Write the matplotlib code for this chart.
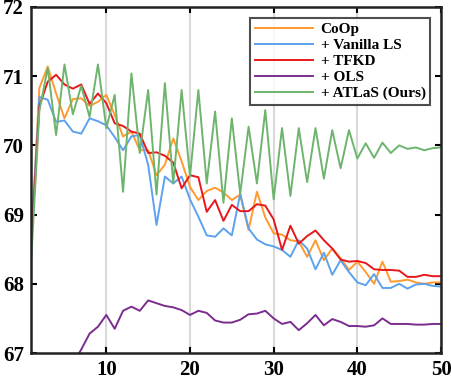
import matplotlib
matplotlib.use('Agg')
import matplotlib.pyplot as plt
import numpy as np

epochs = list(range(1, 51))

coop = [68.5, 70.83, 71.14, 70.75, 70.39, 70.67, 70.68, 70.57, 70.63, 70.73,
        70.44, 70.13, 70.20, 69.93, 69.93, 69.57, 69.72, 70.10, 69.77, 69.40,
        69.21, 69.34, 69.39, 69.32, 69.21, 69.29, 68.78, 69.33, 68.96, 68.73,
        68.71, 68.63, 68.61, 68.39, 68.63, 68.34, 68.51, 68.37, 68.20, 68.32,
        68.17, 68.00, 68.32, 68.03, 68.04, 68.06, 68.02, 68.00, 68.02, 68.02]

vanilla_ls = [68.6, 70.70, 70.66, 70.34, 70.36, 70.20, 70.17, 70.39, 70.35, 70.29,
              70.12, 69.93, 70.13, 70.15, 69.72, 68.85, 69.55, 69.45, 69.55, 69.22,
              68.97, 68.70, 68.68, 68.80, 68.70, 69.30, 68.80, 68.64, 68.57, 68.54,
              68.49, 68.39, 68.63, 68.51, 68.21, 68.45, 68.13, 68.34, 68.17, 68.02,
              67.98, 68.14, 67.94, 67.94, 68.00, 67.93, 67.99, 68.00, 67.97, 67.96]

tfkd = [68.5, 70.57, 70.92, 71.02, 70.88, 70.82, 70.88, 70.60, 70.75, 70.61,
        70.32, 70.28, 70.20, 70.17, 69.89, 69.90, 69.85, 69.75, 69.38, 69.57,
        69.54, 69.04, 69.21, 68.91, 69.14, 69.05, 69.05, 69.15, 69.13, 68.93,
        68.49, 68.84, 68.58, 68.69, 68.77, 68.63, 68.51, 68.35, 68.32, 68.33,
        68.30, 68.21, 68.20, 68.20, 68.19, 68.10, 68.10, 68.13, 68.11, 68.11]

ols = [64.8, 65.6, 66.0, 66.3, 66.6, 66.85, 67.05, 67.28, 67.38, 67.55,
       67.35, 67.61, 67.67, 67.61, 67.76, 67.72, 67.68, 67.66, 67.62, 67.55,
       67.61, 67.58, 67.47, 67.44, 67.44, 67.48, 67.56, 67.57, 67.61, 67.50,
       67.42, 67.45, 67.33, 67.43, 67.55, 67.40, 67.49, 67.45, 67.39, 67.39,
       67.38, 67.40, 67.50, 67.42, 67.42, 67.42, 67.41, 67.41, 67.42, 67.42]

atlas = [68.3, 70.5, 71.12, 70.15, 71.17, 70.45, 70.86, 70.41, 71.17, 70.25,
         70.73, 69.33, 71.04, 69.89, 70.80, 69.29, 70.90, 69.45, 70.80, 69.55,
         70.80, 69.45, 70.49, 69.17, 70.39, 69.30, 70.27, 69.45, 70.51, 69.22,
         70.25, 69.27, 70.25, 69.47, 70.25, 69.52, 70.22, 69.67, 70.22, 69.81,
         70.03, 69.82, 70.04, 69.89, 70.00, 69.95, 69.97, 69.93, 69.96, 69.97]

series = [
    (coop, 'CoOp', '#FF9A2E'),
    (vanilla_ls, '+ Vanilla LS', '#5DA2EE'),
    (tfkd, '+ TFKD', '#E8171C'),
    (ols, '+ OLS', '#7B2D8E'),
    (atlas, '+ ATLaS (Ours)', '#6DB56D'),
]

plt.rcParams['font.family'] = ['Liberation Serif', 'DejaVu Serif']
plt.rcParams['font.weight'] = 'bold'

fig = plt.figure(figsize=(4.52, 3.82), dpi=100)
ax = fig.add_axes([0.0686, 0.0759, 0.9071, 0.9058])

for vals, label, color in series:
    ax.plot(epochs, vals, color=color, lw=1.4, label=label)

ax.set_xlim(1, 50)
ax.set_ylim(67, 72)
ax.set_xticks([10, 20, 30, 40, 50])
ax.set_yticks([67, 68, 69, 70, 71, 72])
ax.xaxis.grid(True, color='#d9d9d9', lw=1.5)
ax.set_axisbelow(True)

ax.tick_params(direction='in', top=True, right=True, length=4, width=1.5,
               labelsize=15)
ax.tick_params(axis='x', pad=5)
ax.tick_params(axis='y', pad=5)
for lab in ax.get_xticklabels() + ax.get_yticklabels():
    lab.set_fontweight('bold')
for sp in ax.spines.values():
    sp.set_linewidth(1.8)
    sp.set_color('#222222')

leg = ax.legend(loc='upper right', fontsize=11, frameon=True, fancybox=False,
                edgecolor='#222222', labelspacing=0.15, handlelength=3.8,
                handletextpad=0.5, borderpad=0.3, borderaxespad=0.7)
leg.get_frame().set_linewidth(1.5)
for t in leg.get_texts():
    t.set_fontweight('bold')

fig.savefig('out.png', dpi=100)
